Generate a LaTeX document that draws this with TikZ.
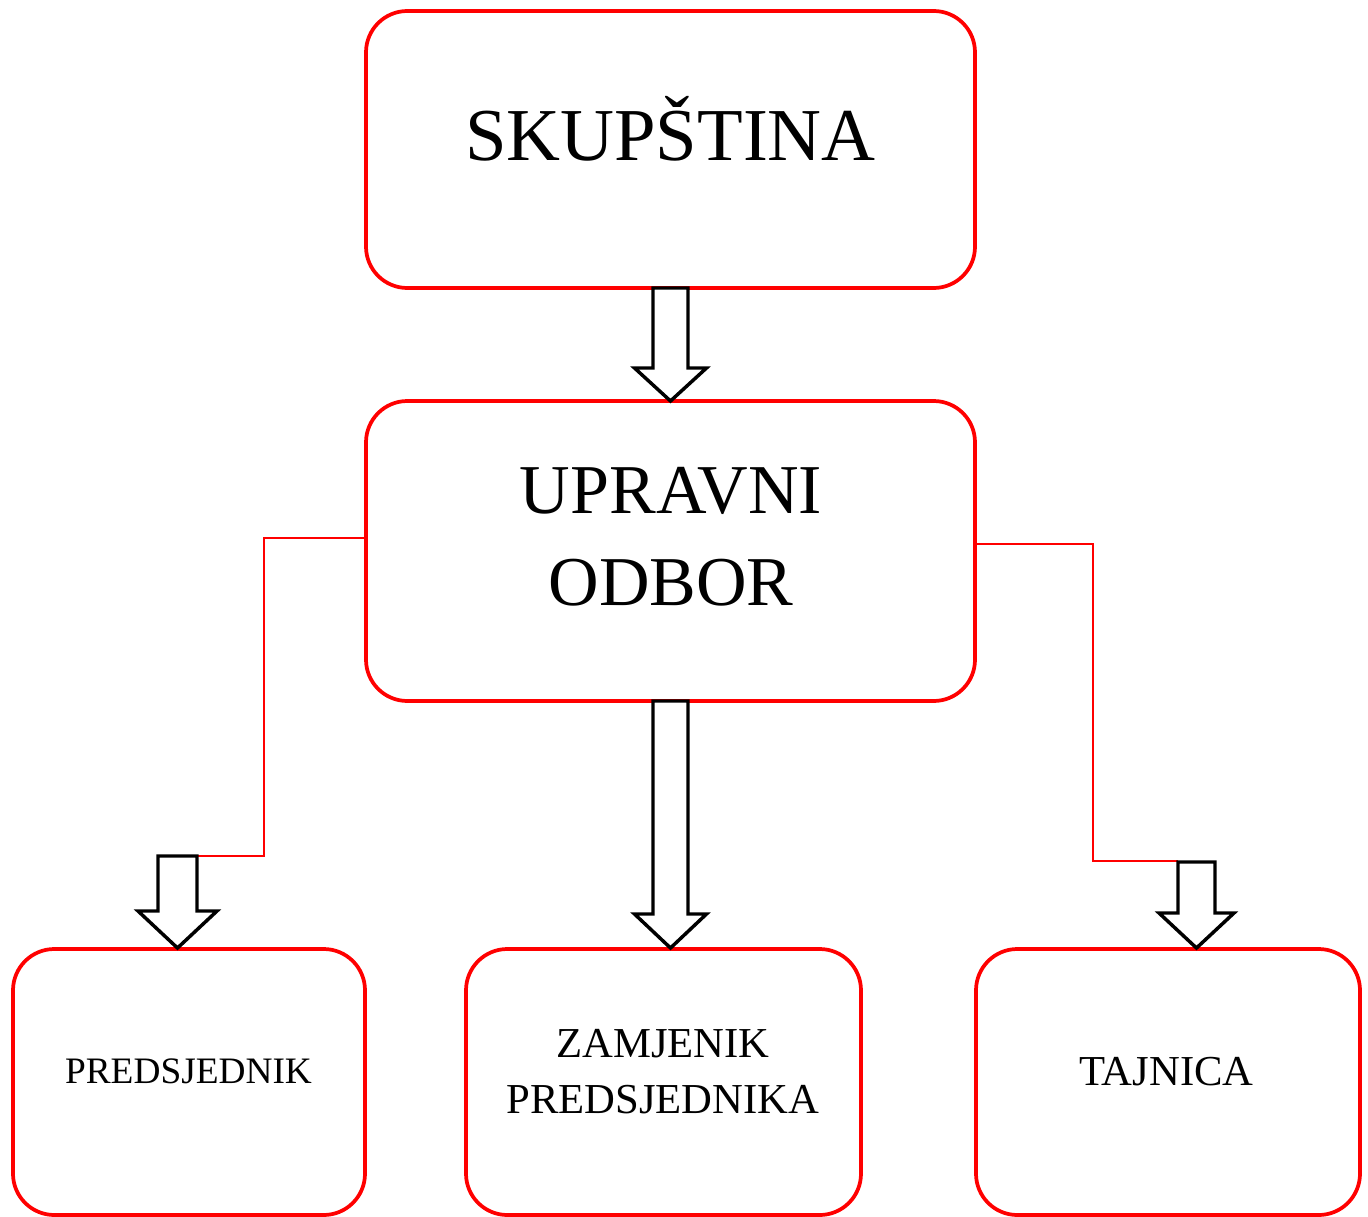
\documentclass[tikz,border=0pt]{standalone}
\usepackage{fontspec}
\setmainfont{Liberation Serif}
\begin{document}
\begin{tikzpicture}[x=0.75pt,y=-0.75pt,
  box/.style={draw=red,line width=2.8pt,rounded corners=31pt,inner sep=0pt,outer sep=0pt,fill=white},
  conn/.style={draw=red,line width=1.6pt},
  barrow/.style={draw=black,line width=2.6pt,fill=white,line join=miter},
  txt/.style={anchor=base,align=center,inner sep=0pt,text=black}]
\useasboundingbox (0,0) rectangle (1368,1217);
\newcommand\blockarr[6]{%
  \draw[barrow] (#1-#5,#2) -- (#1+#5,#2) -- (#1+#5,#3) -- (#1+#6,#3) -- (#1,#4) -- (#1-#6,#3) -- (#1-#5,#3) -- cycle;}
% boxes
\node[box,minimum width=456.75pt,minimum height=207.75pt] (sk) at (670.5,149.5) {};
\node[box,minimum width=456.75pt,minimum height=225pt] (up) at (670.5,551) {};
\node[box,minimum width=264pt,minimum height=199.5pt] (pr) at (189,1082) {};
\node[box,minimum width=296.25pt,minimum height=199.5pt] (za) at (663.5,1082) {};
\node[box,minimum width=288pt,minimum height=199.5pt] (ta) at (1168,1082) {};
% texts
\node[txt,font=\fontsize{56}{67}\selectfont] (skt) at (670.5,160) {SKUPŠTINA};
\node[txt,font=\fontsize{52.5}{69}\selectfont] (upt) at (671,605) {UPRAVNI\\ODBOR};
\node[txt,font=\fontsize{28}{34}\selectfont] (prt) at (188.5,1083) {PREDSJEDNIK};
\node[txt,font=\fontsize{32}{42}\selectfont] (zat) at (663,1113) {ZAMJENIK\\PREDSJEDNIKA};
\node[txt,font=\fontsize{32}{38}\selectfont] (tat) at (1166.5,1085) {TAJNICA};
% red connectors
\coordinate (lc) at (264,538);
\coordinate (la) at (197,856);
\coordinate (rc) at (1093,544);
\coordinate (ra) at (1178,861);
\draw[conn] (up.west |- lc) -- (lc) -- (lc |- la) -- (la);
\draw[conn] (up.east |- rc) -- (rc) -- (rc |- ra) -- (ra);
% block arrows
\blockarr{670.5}{288}{368}{401}{17.5}{36}
\blockarr{670.5}{701}{914}{948}{17.5}{36}
\blockarr{177.5}{856}{911}{948}{19.5}{39.5}
\blockarr{1196.5}{862}{913}{948}{18.5}{37.5}
\end{tikzpicture}
\end{document}
